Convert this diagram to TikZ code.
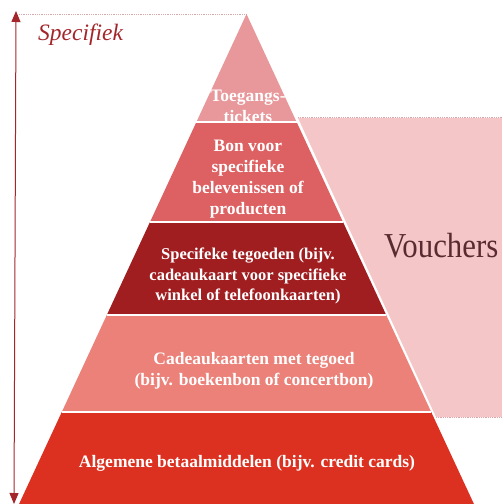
\documentclass[tikz,border=0pt]{standalone}
\usepackage{fontspec}
\setmainfont{Liberation Serif}
\usetikzlibrary{arrows.meta,calc}
\definecolor{layA}{HTML}{E8979A}
\definecolor{layB}{HTML}{DD6062}
\definecolor{layC}{HTML}{A01D20}
\definecolor{layD}{HTML}{EB8179}
\definecolor{layE}{HTML}{DC3120}
\definecolor{vbox}{HTML}{F4C6C8}
\definecolor{darkred}{HTML}{A3262B}
\definecolor{dotc}{HTML}{D8A8AA}
\definecolor{vtext}{HTML}{5A2A30}
\tikzset{
  layer/.style={draw=white, line width=1.6pt, line join=miter},
  lab/.style={text=white, font=\bfseries\fontsize{17.5}{21}\selectfont, align=center, inner sep=0pt},
  dotline/.style={draw=dotc, densely dotted, line width=0.8pt},
}
\begin{document}
\begin{tikzpicture}[x=1pt,y=-1pt]
\useasboundingbox (0,0) rectangle (502,504);
% vouchers box
\fill[vbox] (298,118) -- (502,118) -- (502,417) -- (436,417) -- cycle;
\draw[dotline] (298,117) -- (502,117);
\draw[dotline] (436,417.5) -- (502,417.5);
% top dotted line
\coordinate (apex) at (246.5,14);
\coordinate (topl) at (19,14);
\draw[dotline] (topl) -- (apex);
% layers
\fill[layE] (61.8,412) -- (431.2,412) -- (478.6,514) -- (14.4,514) -- cycle;
\fill[layD] (106.8,315) -- (386.2,315) -- (431.2,412) -- (61.8,412) -- cycle;
\fill[layC] (150.0,222) -- (343.0,222) -- (386.2,315) -- (106.8,315) -- cycle;
\fill[layB] (196.4,122) -- (296.6,122) -- (343.0,222) -- (150.0,222) -- cycle;
\fill[layA] (246.5,14) -- (296.6,122) -- (196.4,122) -- cycle;
\draw[layer] (61.8,412) -- (431.2,412);
\draw[layer] (106.8,315) -- (386.2,315);
\draw[layer] (150.0,222) -- (343.0,222);
\draw[layer] (196.4,122) -- (296.6,122);
% arrow
\coordinate (atop) at (16,11);
\coordinate (abot) at (14,504);
\draw[darkred, line width=1pt, {Triangle[length=11pt,width=9pt]}-{Triangle[length=11pt,width=9pt]}] (atop) -- (abot);
% texts
\node[text=darkred, font=\itshape\fontsize{23.5}{26}\selectfont, anchor=base west, inner sep=0pt] (spec) at (38,40) {Specifiek};
\node[text=vtext, font=\fontsize{35}{38}\selectfont, anchor=base west, inner sep=0pt, xscale=0.88] (vouch) at (384,257) {Vouchers};
\node[lab] (t1) at (248,106) {Toegangs-\\tickets};
\node[lab] (t2) at (248,179) {Bon voor\\specifieke\\belevenissen of\\producten};
\node[lab, font=\bfseries\fontsize{16.5}{20.5}\selectfont] (t3) at (248,276) {Specifeke tegoeden (bijv.\\cadeaukaart voor specifieke\\winkel of telefoonkaarten)};
\node[lab] (t4) at (254,371) {Cadeaukaarten met tegoed\\(bijv. boekenbon of concertbon)};
\node[lab] (t5) at (247,463) {Algemene betaalmiddelen (bijv. credit cards)};
\end{tikzpicture}
\end{document}
